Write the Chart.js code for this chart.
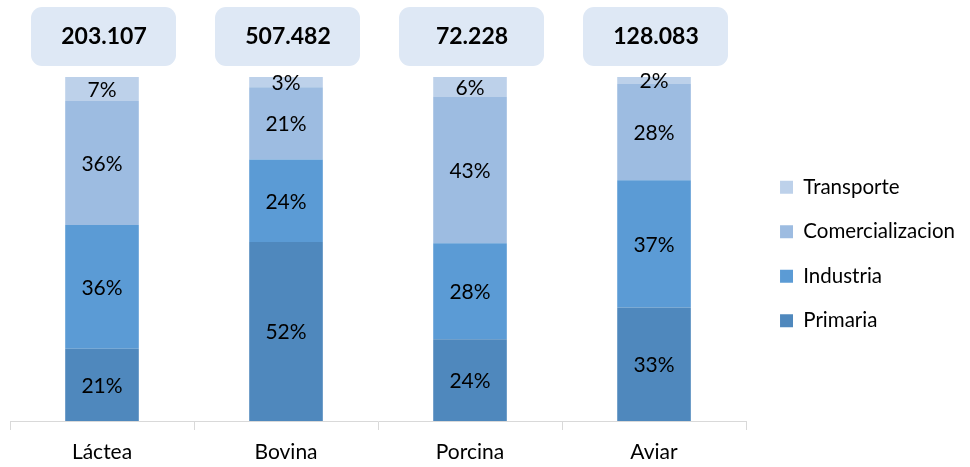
<!DOCTYPE html>
<html>
<head>
<meta charset="utf-8">
<script src="https://cdn.jsdelivr.net/npm/chart.js@4"></script>
<style>
  html, body { margin: 0; padding: 0; background: #fff; }
  #wrap { width: 970px; height: 467px; }
</style>
</head>
<body>
<div id="wrap"><canvas id="chart"></canvas></div>
<script>
const categories = ["Láctea", "Bovina", "Porcina", "Aviar"];
const totals = ["203.107", "507.482", "72.228", "128.083"];

// percent of each chain, bottom to top
const primaria = [21, 52, 23.8, 33];
const industria = [36, 24, 27.9, 37];
const comercializacion = [36, 21, 42.6, 28];
const transporte = [7, 3, 5.7, 2];

const colors = {
    primaria: "#4f88bd",
    industria: "#5b9bd5",
    comercializacion: "#9dbce1",
    transporte: "#bdd1ea",
};

// percent labels centred in each segment
const segmentLabels = {
    id: "segmentLabels",
    afterDatasetsDraw(chart) {
        const ctx = chart.ctx;
        ctx.save();
        ctx.font = "21px Lato";
        ctx.fillStyle = "#000";
        ctx.textAlign = "center";
        ctx.textBaseline = "middle";
        chart.data.datasets.forEach((ds, i) => {
            chart.getDatasetMeta(i).data.forEach((bar, j) => {
                const y = (bar.y + bar.base) / 2;
                ctx.fillText(Math.round(ds.data[j]) + "%", bar.x, y + 1);
            });
        });
        ctx.restore();
    }
};

// rounded boxes with totals over each bar
const totalBoxes = {
    id: "totalBoxes",
    afterDraw(chart) {
        const ctx = chart.ctx;
        const xs = chart.scales.x;
        ctx.save();
        totals.forEach((t, i) => {
            const cx = xs.getPixelForValue(i);
            ctx.beginPath();
            ctx.roundRect(cx - 71, 7, 145, 59, 11);
            ctx.fillStyle = "#dee8f5";
            ctx.fill();
            ctx.fillStyle = "#000";
            ctx.font = "bold 23px Lato";
            ctx.textAlign = "center";
            ctx.textBaseline = "alphabetic";
            ctx.fillText(t, cx + 2, 44);
        });
        ctx.restore();
    }
};

// move the legend block a bit, like in the original
const legendNudge = {
    id: "legendNudge",
    afterLayout(chart) {
        const lg = chart.legend;
        lg.left += 10;
        lg.right += 10;
        lg.top -= 18;
        lg.bottom -= 18;
    }
};

let myChart = new Chart(document.getElementById("chart"), {
    type: "bar",
    plugins: [segmentLabels, totalBoxes, legendNudge],
    data: {
        labels: categories,
        datasets: [
            { label: "Primaria", data: primaria, backgroundColor: colors.primaria },
            { label: "Industria", data: industria, backgroundColor: colors.industria },
            { label: "Comercializacion", data: comercializacion, backgroundColor: colors.comercializacion },
            { label: "Transporte", data: transporte, backgroundColor: colors.transporte },
        ],
    },
    options: {
        responsive: true,
        maintainAspectRatio: false,
        animation: false,
        layout: { padding: { top: 77, left: 10, right: 15, bottom: 0 } },
        datasets: { bar: { barPercentage: 0.4, categoryPercentage: 1 } },
        plugins: {
            tooltip: { enabled: false },
            legend: {
                position: "right",
                reverse: true,
                labels: {
                    boxWidth: 13,
                    boxHeight: 13,
                    padding: 24,
                    color: "#000",
                    font: { family: "Lato", size: 20.5 },
                },
            },
        },
        scales: {
            x: {
                stacked: true,
                afterFit: (scale) => { scale.height = 46; },
                grid: { drawOnChartArea: false, tickLength: 9, color: "#d9d9d9", offset: true },
                border: { color: "#d9d9d9" },
                ticks: { color: "#000", padding: 10, font: { family: "Lato", size: 21 } },
            },
            y: { stacked: true, display: false, min: 0, max: 100 },
        },
    },
});
</script>
</body>
</html>
